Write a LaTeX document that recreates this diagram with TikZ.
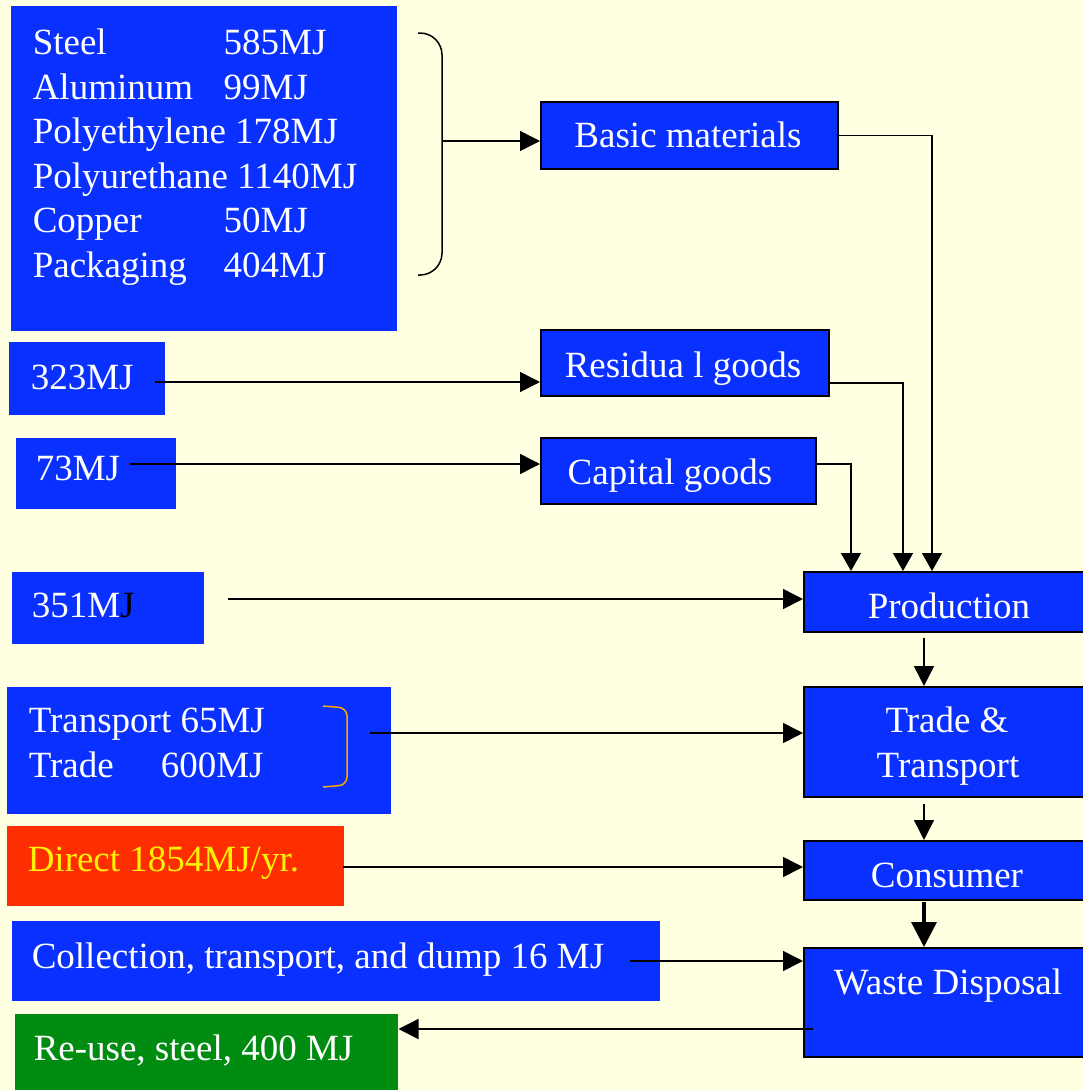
\documentclass[tikz,border=0pt]{standalone}
\usepackage{fontspec}
\setmainfont{Liberation Serif}
\usepackage{tikz}
\usetikzlibrary{calc, arrows.meta}
\definecolor{bgcol}{HTML}{FFFFE1}
\definecolor{boxblue}{HTML}{0A30FF}
\definecolor{boxred}{HTML}{FF2E00}
\definecolor{boxgreen}{HTML}{008C10}
\definecolor{bracketorange}{HTML}{FFA500}

\begin{document}
\begin{tikzpicture}[x=1pt, y=-1pt, line width=1.5pt,
    >={Triangle[length=20pt, width=20pt]},
    lbox/.style={anchor=north west, inner sep=0, fill=boxblue},
    rbox/.style={lbox, draw=black, line width=1.8pt},
    txt/.style={inner sep=0, text=white, font=\fontsize{37}{44.5}\selectfont},
    flow/.style={->}]
    % --- background / page size ---
    \fill[bgcol] (0,0) rectangle (1083,1090);
    \useasboundingbox (0,0) rectangle (1083,1090);

    % --- 1. left boxes (inputs) ---
    \node[lbox, minimum width=386pt, minimum height=325pt] (mat) at (10,5) {};
    \node[lbox, minimum width=156pt, minimum height=73pt] (b323) at (8,341) {};
    \node[lbox, minimum width=160pt, minimum height=71pt] (b73) at (15,437) {};
    \node[lbox, minimum width=192pt, minimum height=72pt] (b351) at (11,571) {};
    \node[lbox, minimum width=384pt, minimum height=127pt] (btrans) at (6,686) {};
    \node[lbox, fill=boxred, minimum width=337pt, minimum height=80pt] (direct) at (6,825) {};
    \node[lbox, minimum width=648pt, minimum height=80pt] (coll) at (11,920) {};
    \node[lbox, fill=boxgreen, minimum width=383pt, minimum height=77pt] (reuse) at (14,1013) {};

    % texts of the left boxes
    \node[txt, anchor=north west] (mat-t) at (32,23) {%
        \begin{tabular}{@{}p{191pt}@{}l@{}}
        Steel & 585MJ\\
        Aluminum & 99MJ\\
        \multicolumn{2}{@{}l@{}}{Polyethylene 178MJ}\\
        \multicolumn{2}{@{}l@{}}{Polyurethane 1140MJ}\\
        Copper & 50MJ\\
        Packaging & 404MJ
        \end{tabular}};
    \node[txt, anchor=base west] (b323-t) at (30,389) {323MJ};
    \node[txt, anchor=base west] (b73-t) at (35,480) {73MJ};
    \node[txt, anchor=base west] (b351-t) at (31,617) {351M\textcolor{black}{J}};
    \node[txt, anchor=north west] (btrans-t) at (28,701) {%
        \begin{tabular}{@{}p{132pt}@{}l@{}}
        \multicolumn{2}{@{}l@{}}{Transport 65MJ}\\
        Trade & 600MJ
        \end{tabular}};
    \node[txt, text=yellow, anchor=base west] (direct-t) at (27,871) {Direct 1854MJ/yr.};
    \node[txt, anchor=base west] (coll-t) at (31,968) {Collection, transport, and dump 16 MJ};
    \node[txt, anchor=base west] (reuse-t) at (33,1060) {Re-use, steel, 400 MJ};

    % --- 2. right boxes (stages) ---
    \node[rbox, minimum width=297pt, minimum height=67pt] (basic) at (540,101) {};
    \node[rbox, minimum width=288pt, minimum height=66pt] (res) at (540,329) {};
    \node[rbox, minimum width=275pt, minimum height=66pt] (cap) at (540,437) {};
    \node[rbox, minimum width=290pt, minimum height=60pt] (prod) at (803,571) {};
    \node[rbox, minimum width=290pt, minimum height=110pt] (trade) at (803,686) {};
    \node[rbox, minimum width=290pt, minimum height=59pt] (cons) at (803,840) {};
    \node[rbox, minimum width=290pt, minimum height=109pt] (waste) at (803,947) {};

    \node[txt, anchor=base] (basic-t) at (688,147) {Basic materials};
    \node[txt, anchor=base] (res-t) at (683,377) {Residua l goods};
    \node[txt, anchor=base] (cap-t) at (670,484) {Capital goods};
    \node[txt, anchor=base] (prod-t) at (949,618) {Production};
    \node[txt, anchor=base] (trade-t1) at (947,732) {Trade \&};
    \node[txt, anchor=base] (trade-t2) at (948,777) {Transport};
    \node[txt, anchor=base] (cons-t) at (947,887) {Consumer};
    \node[txt, anchor=base] (waste-t) at (948,994) {Waste Disposal};

    % --- 3. brackets ---
    \draw[rounded corners=22pt] (418,33) -- (442,33) -- (442,275) -- (418,275);
    \coordinate (brace) at (442,141);
    \draw[bracketorange, rounded corners=8pt] (323,706) -- (347,708) -- (347,785) -- (323,787);

    % --- 4. inputs into the stages ---
    \coordinate (s323) at (155,382);
    \coordinate (s73) at (130,464);
    \coordinate (s351) at (228,599);
    \coordinate (strans) at (370,733);
    \coordinate (sdirect) at (343,867);
    \coordinate (scoll) at (630,961);
    \draw[flow] (brace) -- (brace -| basic.west);
    \draw[flow] (s323) -- (s323 -| res.west);
    \draw[flow] (s73) -- (s73 -| cap.west);
    \draw[flow] (s351) -- (s351 -| prod.west);
    \draw[flow] (strans) -- (strans -| trade.west);
    \draw[flow] (sdirect) -- (sdirect -| cons.west);
    \draw[flow] (scoll) -- (scoll -| waste.west);

    % --- 5. goods down into production ---
    \coordinate (bx) at (932,0);
    \coordinate (rx) at (903,0);
    \coordinate (cx) at (851,0);
    \draw[flow, >={Triangle[length=18pt, width=20pt]}] (basic.east) -| (prod.north -| bx);
    \draw[flow, >={Triangle[length=18pt, width=20pt]}] ([yshift=-20pt]res.east) -| (prod.north -| rx);
    \draw[flow, >={Triangle[length=18pt, width=20pt]}] ([yshift=7pt]cap.east) -| (prod.north -| cx);

    % --- 6. stage to stage ---
    \coordinate (vx) at (924,0);
    \draw[flow] ([yshift=-5pt]prod.south -| vx) -- (trade.north -| vx);
    \draw[flow] ([yshift=-6pt]trade.south -| vx) -- (cons.north -| vx);
    \draw[flow, line width=3.5pt, >={Triangle[length=25pt, width=25pt]}]
        ([yshift=-1pt]cons.south -| vx) -- (waste.north -| vx);

    % --- 7. re-use back out ---
    \coordinate (sre) at (813,1029);
    \draw[flow] (sre) -- (sre -| reuse.east);
\end{tikzpicture}
\end{document}
